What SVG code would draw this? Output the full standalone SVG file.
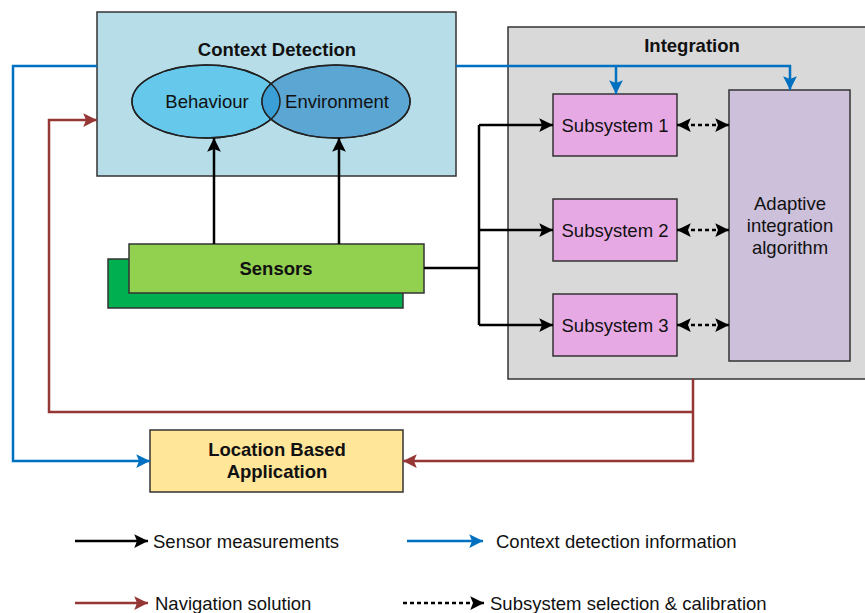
<svg xmlns="http://www.w3.org/2000/svg" width="865" height="613" viewBox="0 0 865 613">
<defs>
<style>
text{font-family:"Liberation Sans",Arial,sans-serif;font-size:18.5px;fill:#111;text-anchor:middle}
.b{font-weight:bold}
.l{text-anchor:start}
.box{stroke:#333;stroke-width:1.5}
.k{stroke:#000;stroke-width:2.5;fill:none}
.bl{stroke:#0070c0;stroke-width:2.5;fill:none}
.rd{stroke:#953735;stroke-width:2.5;fill:none}
.ds{stroke:#000;stroke-width:2.5;fill:none;stroke-dasharray:4 3}
</style>
<marker id="ak" viewBox="0 0 10 10" refX="10" refY="5" markerWidth="5.5" markerHeight="5.5" orient="auto-start-reverse" markerUnits="strokeWidth"><path d="M0,0L10,5L0,10L2,5z" fill="#000"/></marker>
<marker id="ab" viewBox="0 0 10 10" refX="10" refY="5" markerWidth="5.5" markerHeight="5.5" orient="auto" markerUnits="strokeWidth"><path d="M0,0L10,5L0,10L2,5z" fill="#0070c0"/></marker>
<marker id="ar" viewBox="0 0 10 10" refX="10" refY="5" markerWidth="5.5" markerHeight="5.5" orient="auto" markerUnits="strokeWidth"><path d="M0,0L10,5L0,10L2,5z" fill="#953735"/></marker>
<clipPath id="bc"><ellipse cx="206" cy="101.5" rx="74" ry="36.5"/></clipPath>
</defs>

<g id="context-detection">
<rect class="box" x="97" y="12" width="359" height="164" fill="#b7dde8"/>
<text class="b" x="277" y="55.5">Context Detection</text>
</g>
<g id="behaviour">
<ellipse cx="206" cy="101.5" rx="74" ry="36.5" fill="#66c9eb" stroke="#222" stroke-width="1.5"/>
</g>
<g id="environment">
<ellipse cx="336" cy="101.5" rx="74" ry="36.5" fill="#5ba6d3" stroke="#222" stroke-width="1.5"/>
<ellipse cx="336" cy="101.5" rx="74" ry="36.5" fill="#3a9fd6" clip-path="url(#bc)" stroke="none"/>
<ellipse cx="206" cy="101.5" rx="74" ry="36.5" fill="none" stroke="#222" stroke-width="1.5"/>
<ellipse cx="336" cy="101.5" rx="74" ry="36.5" fill="none" stroke="#222" stroke-width="1.5"/>
<text x="207" y="108">Behaviour</text>
<text x="337" y="108">Environment</text>
</g>

<g id="integration">
<rect class="box" x="508" y="27" width="365" height="352" fill="#d9d9d9"/>
<text class="b" x="692" y="51.5">Integration</text>
</g>
<g id="subsystem-1">
<rect class="box" x="553" y="94" width="124" height="62" fill="#e6a9e4"/>
<text x="615" y="131.5">Subsystem 1</text>
</g>
<g id="subsystem-2">
<rect class="box" x="553" y="199" width="124" height="62" fill="#e6a9e4"/>
<text x="615" y="236.5">Subsystem 2</text>
</g>
<g id="subsystem-3">
<rect class="box" x="553" y="294" width="124" height="62" fill="#e6a9e4"/>
<text x="615" y="331.5">Subsystem 3</text>
</g>
<g id="adaptive">
<rect class="box" x="729" y="90" width="121" height="271" fill="#ccc0da"/>
<text x="790" y="209.5">Adaptive</text>
<text x="790" y="231.5">integration</text>
<text x="790" y="253.5">algorithm</text>
</g>

<g id="sensors">
<rect class="box" x="108" y="259" width="295" height="49" fill="#00b050"/>
<rect class="box" x="129" y="244" width="295" height="49" fill="#92d050"/>
<text class="b" x="276" y="274.5">Sensors</text>
</g>

<g id="lba">
<rect class="box" x="150" y="430" width="253" height="62" fill="#ffe699"/>
<text class="b" x="277" y="455.5">Location Based</text>
<text class="b" x="277" y="477.5">Application</text>
</g>

<g id="connectors">
<path class="k" d="M214,244V138" marker-end="url(#ak)"/>
<path class="k" d="M339,244V138" marker-end="url(#ak)"/>
<path class="k" d="M424,268H479"/>
<path class="k" d="M479,125V325"/>
<path class="k" d="M479,125H553" marker-end="url(#ak)"/>
<path class="k" d="M479,230H553" marker-end="url(#ak)"/>
<path class="k" d="M479,325H553" marker-end="url(#ak)"/>
<path class="ds" d="M677,125H729" marker-start="url(#ak)" marker-end="url(#ak)"/>
<path class="ds" d="M677,230H729" marker-start="url(#ak)" marker-end="url(#ak)"/>
<path class="ds" d="M677,325H729" marker-start="url(#ak)" marker-end="url(#ak)"/>
<path class="bl" d="M456,66H790V90" marker-end="url(#ab)"/>
<path class="bl" d="M616,66V94" marker-end="url(#ab)"/>
<path class="bl" d="M97,66H13V461H150" marker-end="url(#ab)"/>
<path class="rd" d="M693,379V461H403" marker-end="url(#ar)"/>
<path class="rd" d="M693,412H49V120H97" marker-end="url(#ar)"/>
</g>

<g id="legend">
<path class="k" d="M75,541H148" marker-end="url(#ak)"/>
<text class="l" x="153" y="547.5">Sensor measurements</text>
<path class="bl" d="M407,541H483" marker-end="url(#ab)"/>
<text class="l" x="496" y="547.5">Context detection information</text>
<path class="rd" d="M75,603H148" marker-end="url(#ar)"/>
<text class="l" x="155" y="609.5">Navigation solution</text>
<path class="ds" d="M403,603H484" marker-end="url(#ak)"/>
<text class="l" x="490" y="609.5">Subsystem selection &amp; calibration</text>
</g>
</svg>
